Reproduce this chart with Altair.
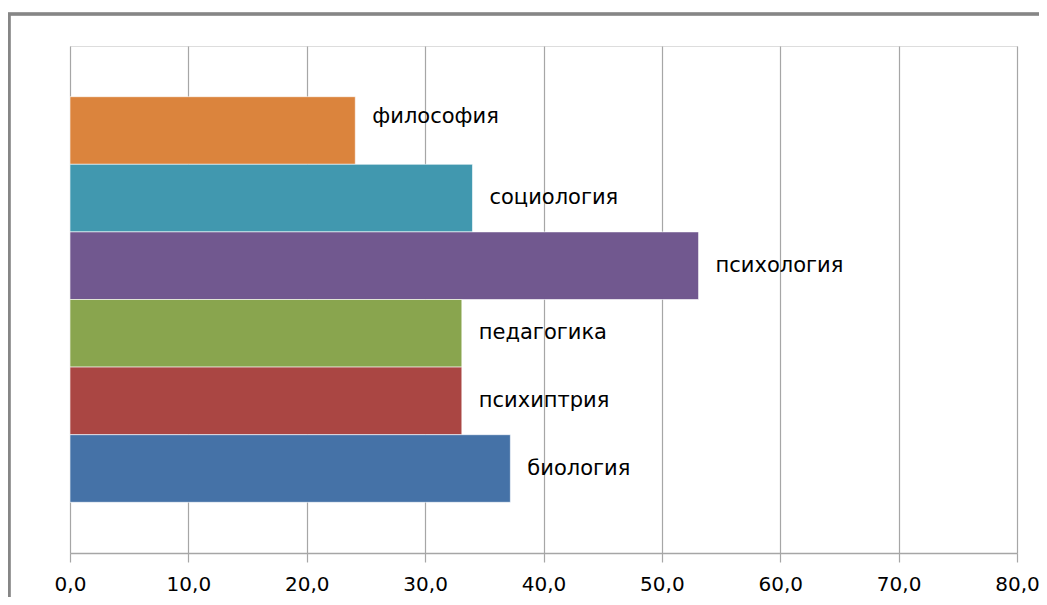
import altair as alt
import pandas as pd

categories = ["философия", "социология", "психология", "педагогика", "психиптрия", "биология"]
values = [24.1, 34.0, 53.1, 33.1, 33.1, 37.2]
colors = ["#DB843D", "#4198AF", "#71588F", "#89A54E", "#AA4643", "#4572A7"]
x_ticks = [0, 10, 20, 30, 40, 50, 60, 70, 80]

df = pd.DataFrame({"cat": categories, "val": values})

FONT = "DejaVu Sans"
FS = 21

y_enc = alt.Y("cat:N", sort=categories, axis=None,
              scale=alt.Scale(paddingInner=0, paddingOuter=0.75))

bars = alt.Chart(df).mark_bar(stroke="#ffffff", strokeWidth=0.6).encode(
    x=alt.X("val:Q",
            scale=alt.Scale(domain=[0, 80], nice=False),
            axis=alt.Axis(values=x_ticks, title=None,
                          labelExpr="replace(format(datum.value, '.1f'), '.', ',')",
                          labelFlush=False, labelOverlap=False,
                          grid=True, gridColor="#A6A6A6", gridWidth=1.2,
                          domainColor="#A6A6A6", domainWidth=1.5,
                          tickColor="#A6A6A6", tickSize=9, tickWidth=1.2,
                          labelFont=FONT, labelFontSize=20, labelColor="#000000",
                          labelPadding=12)),
    y=y_enc,
    color=alt.Color("cat:N", sort=categories,
                    scale=alt.Scale(domain=categories, range=colors), legend=None),
)

text_base = alt.Chart(df).encode(x="val:Q", y=y_enc, text="cat:N")

labels_main = text_base.mark_text(align="left", baseline="middle", dx=17,
                                  font=FONT, fontSize=FS, color="#000000").transform_filter(
    alt.datum.cat != "философия")
labels_top = text_base.mark_text(align="left", baseline="middle", dx=17, dy=-14,
                                 font=FONT, fontSize=FS, color="#000000").transform_filter(
    alt.datum.cat == "философия")

frame = alt.Chart(df).mark_rect(fill=None, stroke="#868686", strokeWidth=2.5).encode(
    x=alt.value(-61), x2=alt.value(1100), y=alt.value(-32), y2=alt.value(700)
)

chart = alt.layer(frame, bars, labels_main, labels_top).properties(
    width=947, height=507,
    autosize=alt.AutoSizeParams(type="none"),
    padding={"left": 62, "top": 38, "right": 22, "bottom": 44},
).configure_view(stroke=None).configure(background="#ffffff")

chart.save("out.html", embed_options={"renderer": "svg", "actions": False})
